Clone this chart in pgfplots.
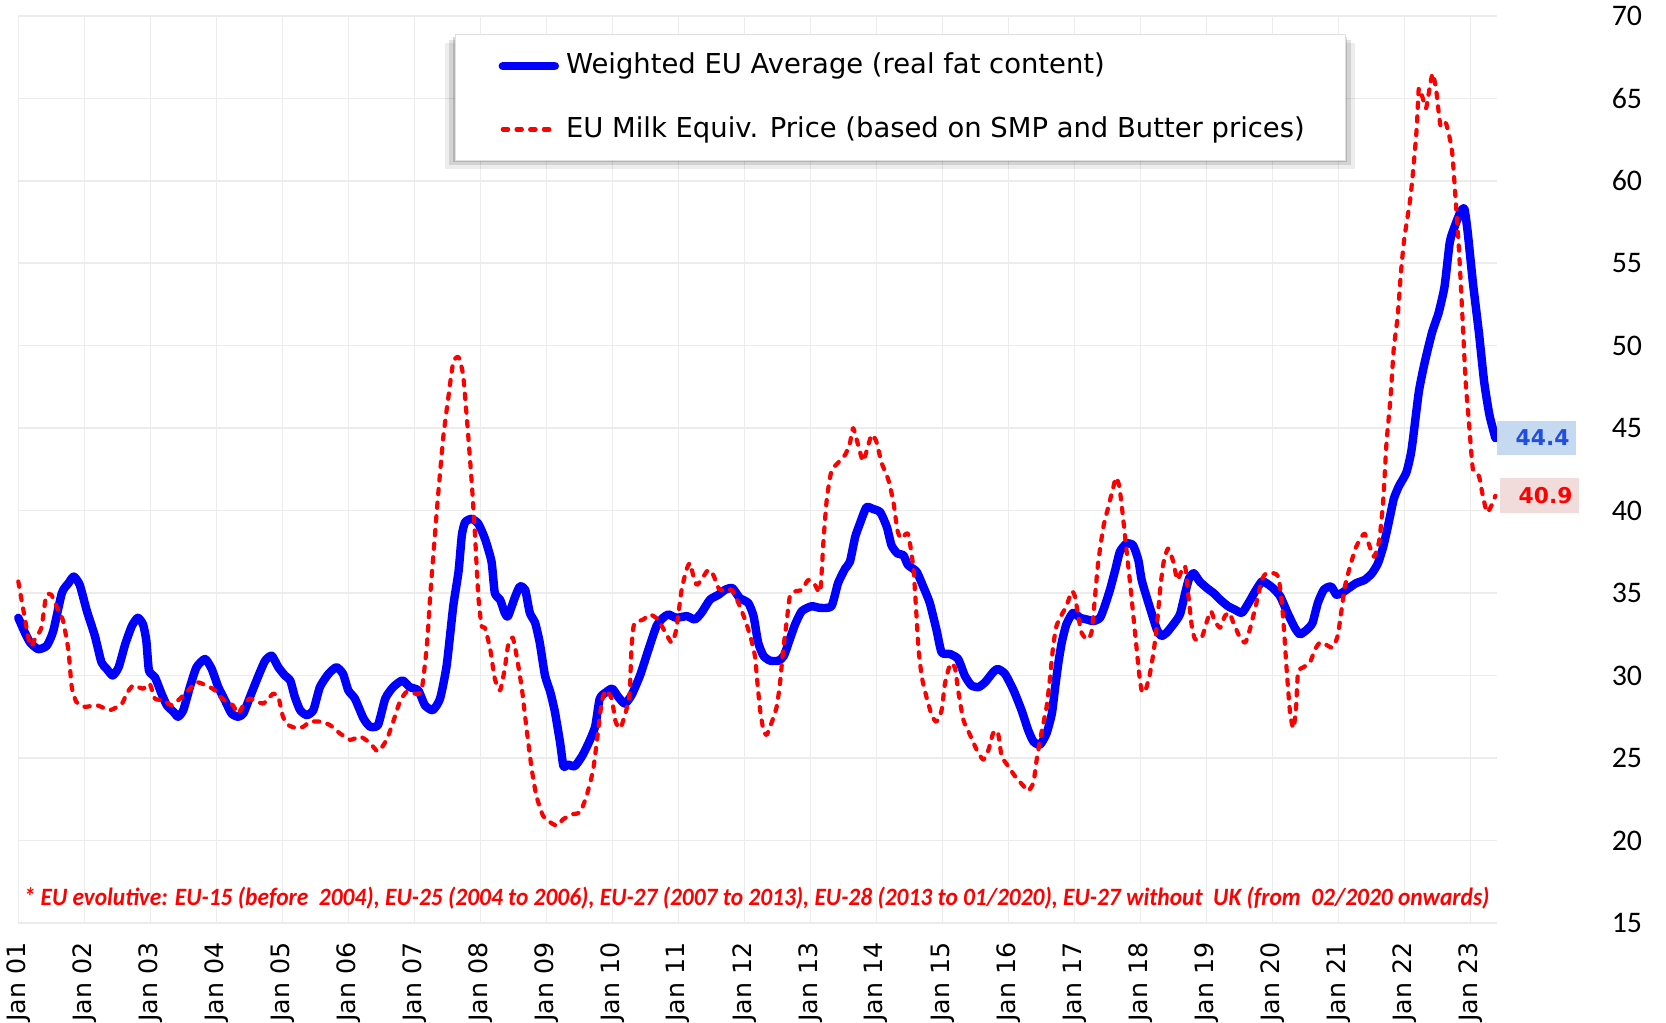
\documentclass[border=0pt]{standalone}
\usepackage{fontspec}
\setmainfont{DejaVu Sans}
\newfontfamily\calib{Carlito}
\usepackage{graphicx}
\usepackage{pgfplots}
\usepackage{pgfplotstable}
\pgfplotsset{compat=1.18}
\definecolor{gridc}{RGB}{236,236,236}
\definecolor{lblblue}{RGB}{31,78,225}
\definecolor{boxblue}{RGB}{197,217,241}
\definecolor{boxred}{RGB}{242,220,219}

\pgfplotstableread{
t v
0.00 33.5
0.10 32.6
0.18 32.0
0.30 31.6
0.43 31.8
0.53 32.7
0.66 35.0
0.76 35.6
0.84 36.0
0.93 35.5
1.04 33.9
1.16 32.4
1.26 30.8
1.34 30.4
1.43 30.0
1.52 30.5
1.62 31.9
1.72 33.0
1.81 33.5
1.89 33.1
1.94 32.1
1.98 30.3
2.07 29.9
2.17 28.9
2.25 28.2
2.35 27.8
2.42 27.5
2.50 27.9
2.60 29.3
2.70 30.5
2.83 31.0
2.93 30.4
3.03 29.3
3.13 28.5
3.23 27.7
3.33 27.5
3.41 27.7
3.51 28.7
3.64 30.0
3.74 30.9
3.84 31.2
3.94 30.5
4.04 30.0
4.12 29.7
4.19 28.7
4.27 27.9
4.37 27.6
4.47 27.9
4.57 29.3
4.70 30.1
4.82 30.5
4.92 30.1
5.00 29.1
5.10 28.6
5.23 27.4
5.33 26.9
5.45 27.0
5.56 28.6
5.68 29.3
5.82 29.7
5.93 29.3
6.06 29.1
6.16 28.2
6.28 27.9
6.39 28.6
6.49 30.6
6.59 34.2
6.67 36.3
6.72 38.5
6.77 39.3
6.87 39.5
6.97 39.2
7.07 38.3
7.17 36.9
7.22 35.0
7.30 34.6
7.37 33.8
7.42 33.6
7.53 34.8
7.60 35.4
7.68 35.2
7.75 33.8
7.83 33.2
7.90 32.0
7.98 30.0
8.06 29.0
8.13 27.8
8.21 25.9
8.26 24.5
8.33 24.6
8.43 24.5
8.54 25.1
8.64 25.9
8.74 26.9
8.81 28.6
8.91 29.0
9.00 29.2
9.09 28.7
9.19 28.3
9.29 28.8
9.42 30.0
9.55 31.6
9.67 33.0
9.77 33.5
9.85 33.7
9.97 33.5
10.13 33.6
10.25 33.4
10.35 33.8
10.48 34.6
10.61 34.9
10.71 35.2
10.82 35.3
10.93 34.7
11.06 34.4
11.14 33.6
11.21 32.0
11.29 31.2
11.39 30.9
11.52 30.9
11.60 31.2
11.69 32.2
11.77 33.1
11.87 33.9
12.02 34.2
12.15 34.1
12.32 34.2
12.42 35.6
12.53 36.5
12.60 36.9
12.68 38.4
12.75 39.2
12.85 40.2
12.95 40.1
13.06 39.9
13.16 39.0
13.23 37.9
13.32 37.4
13.41 37.3
13.48 36.7
13.61 36.3
13.71 35.4
13.81 34.4
13.91 32.8
13.99 31.4
14.12 31.3
14.24 31.0
14.34 30.0
14.44 29.4
14.55 29.3
14.65 29.6
14.77 30.2
14.84 30.4
14.95 30.1
15.08 29.1
15.20 27.9
15.30 26.7
15.38 26.0
15.48 25.8
15.58 26.5
15.66 27.7
15.71 29.3
15.76 30.8
15.81 32.0
15.88 33.1
15.98 33.8
16.09 33.5
16.19 33.4
16.29 33.3
16.39 33.5
16.46 34.2
16.54 35.2
16.62 36.4
16.69 37.5
16.79 38.0
16.89 37.9
16.97 37.0
17.02 35.8
17.10 34.7
17.17 33.8
17.25 32.8
17.32 32.4
17.40 32.6
17.50 33.1
17.60 33.7
17.68 35.0
17.74 35.9
17.81 36.2
17.90 35.7
18.01 35.3
18.11 35.0
18.21 34.6
18.33 34.2
18.43 34.0
18.54 33.8
18.64 34.4
18.74 35.1
18.84 35.7
18.91 35.6
19.01 35.3
19.12 34.8
19.23 33.8
19.34 32.9
19.42 32.5
19.53 32.8
19.61 33.2
19.69 34.4
19.78 35.2
19.89 35.4
19.97 34.9
20.05 35.0
20.16 35.3
20.27 35.6
20.40 35.8
20.51 36.2
20.60 36.8
20.68 37.8
20.76 39.2
20.84 40.7
20.92 41.5
21.03 42.3
21.11 43.7
21.22 47.2
21.31 49.0
21.42 50.8
21.52 52.0
21.61 53.6
21.69 56.3
21.77 57.3
21.85 58.1
21.91 58.3
21.96 56.9
22.04 53.8
22.13 50.8
22.21 47.8
22.29 45.8
22.38 44.4
}\weightedtab

\pgfplotstableread{
t v
0.00 35.7
0.08 33.9
0.18 31.8
0.25 32.2
0.35 32.9
0.42 34.8
0.50 34.9
0.61 33.9
0.68 33.3
0.76 31.5
0.81 29.3
0.88 28.4
1.01 28.1
1.19 28.2
1.39 27.9
1.57 28.3
1.64 28.9
1.74 29.4
1.89 29.2
1.99 29.5
2.07 28.6
2.20 28.5
2.32 28.2
2.45 28.6
2.60 29.2
2.70 29.6
2.85 29.4
2.98 29.1
3.06 28.7
3.16 28.4
3.25 28.2
3.33 27.7
3.41 28.2
3.51 28.6
3.71 28.3
3.86 28.9
3.94 28.7
4.01 27.5
4.09 27.0
4.22 26.8
4.32 26.9
4.42 27.2
4.57 27.2
4.72 27.0
4.87 26.5
5.03 26.1
5.18 26.3
5.33 25.9
5.45 25.4
5.58 26.1
5.68 27.2
5.78 28.4
5.88 29.0
6.01 28.9
6.11 29.1
6.19 31.8
6.24 34.8
6.30 37.9
6.36 40.9
6.44 44.5
6.52 47.0
6.59 49.0
6.67 49.3
6.74 48.2
6.81 44.9
6.87 41.7
6.92 38.5
6.97 34.8
7.02 33.0
7.07 32.9
7.15 31.6
7.22 29.8
7.30 29.1
7.37 30.4
7.42 31.8
7.49 32.3
7.55 31.2
7.63 29.2
7.70 26.8
7.78 24.3
7.85 22.7
7.95 21.5
8.06 21.1
8.16 20.9
8.26 21.3
8.41 21.6
8.51 21.7
8.61 22.7
8.71 24.3
8.79 26.8
8.84 28.4
8.90 29.1
8.99 28.6
9.05 27.2
9.12 26.8
9.19 27.6
9.26 28.8
9.29 31.6
9.33 33.1
9.47 33.4
9.57 33.7
9.69 33.4
9.82 32.5
9.90 32.0
9.97 32.8
10.05 35.2
10.13 36.5
10.18 36.8
10.23 36.0
10.28 35.5
10.35 35.8
10.45 36.4
10.53 36.1
10.61 35.3
10.71 35.1
10.81 35.2
10.91 34.4
11.01 33.4
11.09 32.4
11.16 31.2
11.20 29.5
11.24 27.9
11.29 26.7
11.34 26.4
11.41 27.1
11.49 28.1
11.54 29.5
11.59 31.6
11.64 33.2
11.69 34.8
11.77 35.1
11.87 35.2
11.97 35.8
12.07 35.5
12.15 35.1
12.20 38.2
12.25 40.7
12.32 42.4
12.42 42.9
12.53 43.4
12.60 44.1
12.65 45.0
12.73 43.9
12.80 43.0
12.88 44.0
12.93 44.6
13.00 44.2
13.08 42.9
13.18 41.9
13.26 40.5
13.32 38.8
13.38 38.3
13.48 38.6
13.56 36.6
13.60 34.2
13.64 31.6
13.69 29.9
13.76 28.7
13.84 27.6
13.91 27.2
13.99 27.9
14.04 29.5
14.12 30.7
14.19 30.5
14.24 29.1
14.32 27.3
14.42 26.4
14.52 25.5
14.62 24.9
14.70 25.5
14.77 26.5
14.84 26.6
14.90 25.1
15.00 24.5
15.10 23.9
15.23 23.3
15.30 23.0
15.38 23.5
15.43 24.9
15.50 26.5
15.58 28.1
15.63 29.8
15.68 31.8
15.73 33.0
15.81 33.7
15.88 34.2
15.96 35.1
16.01 34.8
16.06 33.6
16.11 32.6
16.19 32.2
16.26 32.6
16.31 34.6
16.36 36.8
16.44 39.0
16.52 40.3
16.59 41.4
16.63 42.0
16.68 41.5
16.73 39.9
16.78 38.0
16.84 35.8
16.89 33.8
16.94 31.8
16.98 30.2
17.02 29.1
17.07 29.0
17.14 30.0
17.20 31.4
17.25 33.0
17.30 35.2
17.35 36.8
17.42 37.7
17.50 36.9
17.56 35.8
17.63 36.4
17.68 36.6
17.73 34.8
17.78 33.0
17.83 32.2
17.93 32.3
18.01 33.3
18.07 33.9
18.13 33.3
18.21 32.9
18.28 33.6
18.35 33.8
18.41 33.2
18.51 32.3
18.59 32.0
18.66 32.8
18.76 34.4
18.84 35.8
18.91 36.2
19.02 36.2
19.09 36.0
19.14 34.6
19.18 32.6
19.22 30.2
19.27 27.7
19.32 26.8
19.36 28.1
19.39 30.2
19.47 30.5
19.57 30.8
19.65 31.6
19.72 32.0
19.80 31.9
19.91 31.7
19.99 32.4
20.05 34.0
20.10 35.4
20.19 36.8
20.27 37.8
20.35 38.4
20.40 38.6
20.46 38.0
20.54 37.2
20.62 38.2
20.68 40.6
20.73 44.1
20.79 46.8
20.84 49.8
20.90 51.8
20.95 54.5
21.00 56.5
21.09 58.9
21.14 60.9
21.19 63.3
21.22 65.6
21.28 65.0
21.33 64.4
21.39 65.8
21.43 66.5
21.48 65.6
21.55 63.3
21.63 63.5
21.72 61.9
21.77 59.3
21.83 55.7
21.88 51.8
21.93 47.8
21.99 44.8
22.04 42.5
22.13 42.1
22.18 41.1
22.25 39.9
22.32 40.3
22.38 40.9
}\milktab

\begin{document}
\begin{tikzpicture}
\begin{axis}[
  scale only axis,
  width=14.784cm, height=9.07cm,
  xmin=0, xmax=22.4, ymin=15, ymax=70,
  clip=false,
  axis line style={draw=none},
  tick style={draw=none},
  xtick={0,1,...,22},
  xticklabels={Jan 01,Jan 02,Jan 03,Jan 04,Jan 05,Jan 06,Jan 07,Jan 08,Jan 09,Jan 10,Jan 11,Jan 12,Jan 13,Jan 14,Jan 15,Jan 16,Jan 17,Jan 18,Jan 19,Jan 20,Jan 21,Jan 22,Jan 23},
  xticklabel style={rotate=90, anchor=east, font=\fontsize{7.2}{8}\selectfont},
  xticklabel shift=2.0pt,
  ytick={15,20,...,70},
  yticklabel pos=right,
  yticklabel style={anchor=west, font=\calib\fontsize{8.5}{9}\selectfont},
  yticklabel shift=29.2pt,
  /pgf/number format/assume math mode=true,
  grid=major,
  major grid style={draw=gridc, line width=0.45pt},
  legend style={
    at={(rel axis cs:0.2954,0.980)}, anchor=north west,
    draw=black!12, fill=white, line width=0.4pt,
    inner xsep=9.6pt, inner ysep=3.2pt,
    row sep=6.6pt,
    font=\fontsize{7.8}{9}\selectfont,
    cells={anchor=west},
  },
  legend image code/.code={\path (0pt,0pt); \draw[#1] (2.6pt,0pt) -- (17.4pt,0pt);},
]
% soft drop shadow behind the legend box
\fill[black, opacity=0.07] ([shift={(-2.8pt,-2.6pt)}]rel axis cs:0.2954,0.9801) rectangle ([shift={(2.8pt,-2.8pt)}]rel axis cs:0.8974,0.8423);
\fill[black, opacity=0.11] ([shift={(-1.7pt,-1.6pt)}]rel axis cs:0.2954,0.9801) rectangle ([shift={(1.7pt,-1.8pt)}]rel axis cs:0.8974,0.8423);
\fill[black, opacity=0.15] ([shift={(-0.7pt,-0.8pt)}]rel axis cs:0.2954,0.9801) rectangle ([shift={(0.7pt,-0.9pt)}]rel axis cs:0.8974,0.8423);

\addplot[color={rgb,255:red,0;green,0;blue,255}, line width=2.4pt, line join=round, line cap=round, smooth, tension=0.35]
  table[x=t, y=v] {\weightedtab};
\addlegendentry{Weighted EU Average (real fat content)}
\addplot[color={rgb,255:red,255;green,0;blue,0}, line width=1.2pt, line cap=round, line join=round, dash pattern=on 1.5pt off 2.4pt, smooth, tension=0.35]
  table[x=t, y=v] {\milktab};
\addlegendentry{EU Milk Equiv. Price (based on SMP and Butter prices)}

\node[anchor=west, fill=boxblue, inner xsep=2pt, inner ysep=0pt, minimum height=9.7pt, text width=18.5pt, align=right, text=lblblue, font=\bfseries\fontsize{6.2}{7}\selectfont] at (axis cs:22.4,44.4) {44.4};
\node[anchor=west, fill=boxred, inner xsep=2pt, inner ysep=0pt, minimum height=9.9pt, text width=18.5pt, align=right, text=red, font=\bfseries\fontsize{6.2}{7}\selectfont] at (axis cs:22.445,40.9) {40.9};

\node[anchor=west, inner sep=0pt, text=red] at (axis cs:0.07,16.5) {\resizebox{417pt}{\height}{\calib\bfseries\itshape\fontsize{7.1}{8}\selectfont * EU evolutive: EU-15 (before\ \ 2004), EU-25 (2004 to 2006), EU-27 (2007 to 2013), EU-28 (2013 to 01/2020), EU-27 without\ \ UK (from\ \ 02/2020 onwards)}};

\coordinate (SW) at (rel axis cs:0,0);
\coordinate (NE) at (rel axis cs:1,1);
\end{axis}
\pgfresetboundingbox
\path ([shift={(-0.183cm,-1.0cm)}]SW) rectangle ([shift={(1.693cm,0.159cm)}]NE);
\end{tikzpicture}
\end{document}
